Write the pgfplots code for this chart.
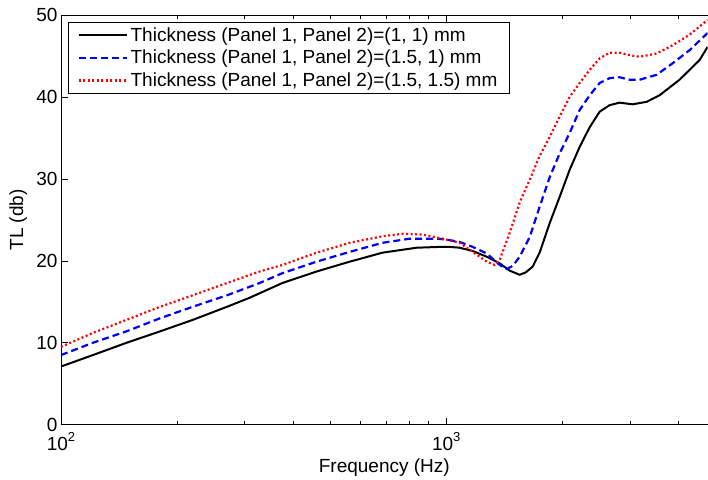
\documentclass[border=0pt]{standalone}
\usepackage{fontspec}
\setmainfont{Liberation Sans}
\usepackage{pgfplots}
\pgfplotsset{compat=1.18}
\newcommand\fs{\fontsize{19bp}{22bp}\selectfont}
\newcommand\supr[1]{\raisebox{0.5em}{\fontsize{13bp}{13bp}\selectfont #1}}
\begin{document}
\begin{tikzpicture}
\begin{axis}[
 xmode=log, log basis x=10,
 scale only axis, width=647bp, height=410bp,
 xmin=100, xmax=4768, ymin=0, ymax=50,
 axis y line*=left, axis x line*=box,
 xtick={100,1000}, xticklabels={\mbox{10\supr{2}},\mbox{10\supr{3}}},
 xticklabel style={yshift=-4bp},
 minor xtick={200,300,400,500,600,700,800,900,2000,3000,4000},
 ytick={0,10,20,30,40,50},
 tick align=inside,
 major tick length=7bp, minor tick length=4bp,
 every tick/.style={black, line width=0.6bp},
 axis line style={line width=0.9bp},
 /pgf/number format/assume math mode=true,
 tick label style={font=\fs},
 label style={font=\fs},
 xlabel={Frequency (Hz)}, ylabel={TL (db)},
 xlabel style={at={(axis description cs:0.5,-0.105)},anchor=center},
 ylabel style={at={(axis description cs:-0.066,0.5)},anchor=center},
 legend style={font=\fs, at={(axis description cs:0.011,0.983)}, anchor=north west, draw=black, line width=0.8bp, inner xsep=9bp, inner ysep=3bp, row sep=3.5bp, nodes={inner xsep=3bp}},
 legend cell align=left,
 legend image code/.code={\draw[#1] (0bp,0bp) -- (48bp,0bp);},
]
\addplot[black, line width=2bp] coordinates {
(100,7.1) (121,8.5) (148,10.0) (181,11.4) (220,12.8) (270,14.4) (309,15.5)
(376,17.3) (461,18.7) (562,19.9) (684,21.0) (838,21.6) (962,21.7) (1021,21.7)
(1084,21.6) (1171,21.2) (1274,20.5) (1376,19.7) (1461,18.8) (1551,18.3)
(1610,18.6) (1677,19.3) (1748,21.0) (1856,24.6) (1970,27.8) (2091,31.1)
(2220,33.9) (2357,36.3) (2502,38.2) (2656,39.0) (2819,39.3) (3046,39.1)
(3312,39.4) (3579,40.2) (4033,42.1) (4546,44.5) (4768,46.1)
};
\addlegendentry{Thickness (Panel 1, Panel 2)=(1, 1) mm}
\addplot[blue, line width=2.2bp, dash pattern=on 7bp off 4bp] coordinates {
(100,8.5) (121,10.0) (148,11.4) (181,13.0) (220,14.4) (270,15.8) (328,17.3)
(376,18.5) (461,19.9) (562,21.1) (684,22.2) (804,22.7) (945,22.7) (1000,22.6)
(1084,22.3) (1171,21.7) (1274,20.9) (1376,19.5) (1435,19.0) (1490,19.4)
(1551,20.5) (1647,22.9) (1748,26.6) (1856,30.2) (1970,33.1) (2091,35.6)
(2220,38.4) (2357,40.2) (2502,41.7) (2656,42.3) (2819,42.4) (2993,42.1)
(3177,42.1) (3516,42.7) (3869,44.1) (4282,45.7) (4768,47.8)
};
\addlegendentry{Thickness (Panel 1, Panel 2)=(1.5, 1) mm}
\addplot[red, line width=2.2bp, dash pattern=on 2bp off 2.5bp] coordinates {
(100,9.5) (121,11.2) (148,12.8) (181,14.4) (220,15.8) (270,17.3) (328,18.7)
(376,19.5) (461,21.0) (562,22.2) (684,23.0) (771,23.3) (869,23.2) (979,22.7)
(1084,22.2) (1171,21.1) (1274,19.9) (1336,19.5) (1376,20.1) (1461,23.4)
(1551,27.1) (1647,29.9) (1748,32.8) (1856,35.1) (1970,37.6) (2091,40.0)
(2220,41.7) (2357,43.3) (2502,44.7) (2656,45.4) (2819,45.4) (2993,45.1)
(3177,44.9) (3516,45.3) (3869,46.3) (4282,47.6) (4768,49.4)
};
\addlegendentry{Thickness (Panel 1, Panel 2)=(1.5, 1.5) mm}
\end{axis}
\path (current axis.south west) ++(-61bp,-55bp) rectangle (current axis.north east) ++(0bp,15bp);
\end{tikzpicture}
\end{document}
